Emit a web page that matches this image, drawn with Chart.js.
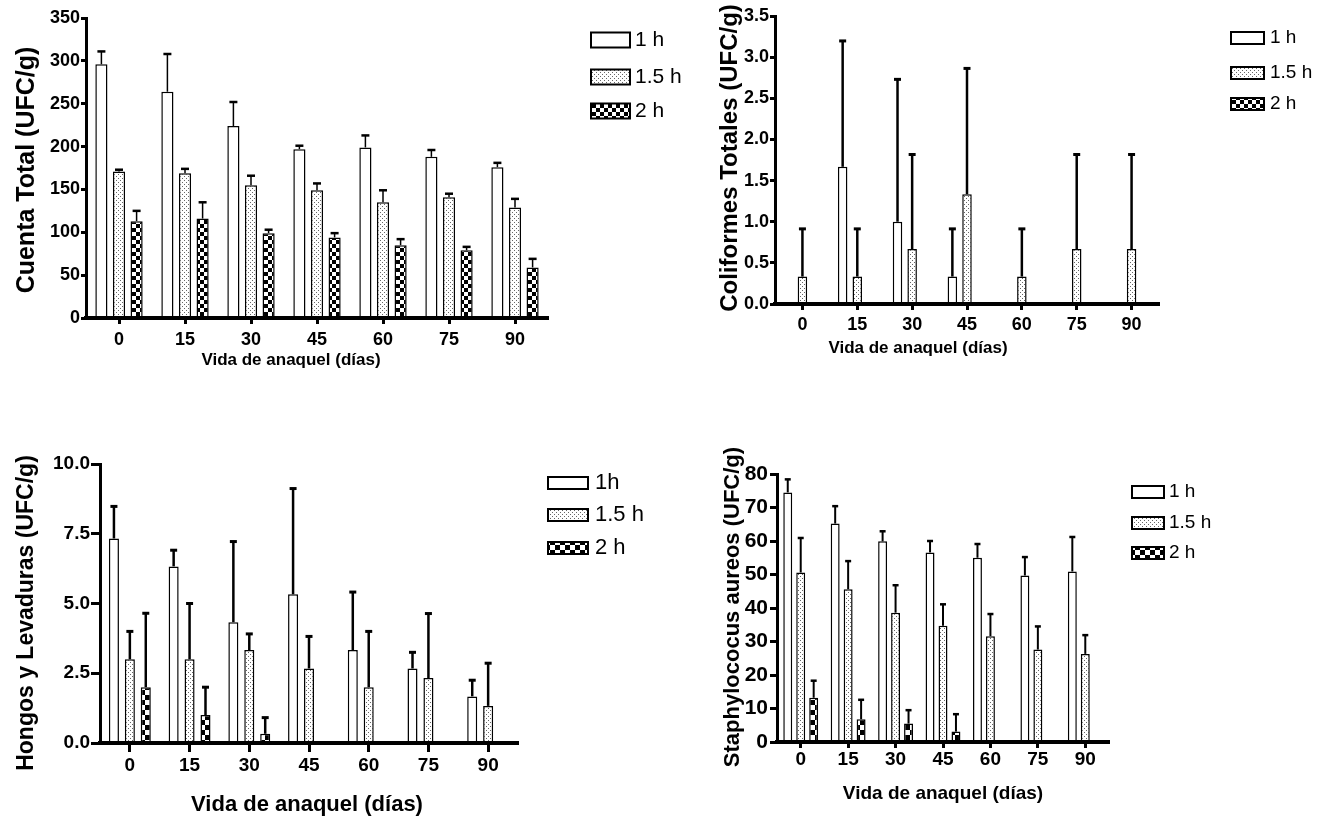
<!DOCTYPE html>
<html>
<head>
<meta charset="utf-8">
<script src="https://cdn.jsdelivr.net/npm/chart.js@4.4.1/dist/chart.umd.min.js"></script>
<style>
  body { margin: 0; background: #fff; width: 1328px; height: 816px; overflow: hidden; position: relative; }
  canvas { position: absolute; }
</style>
</head>
<body>
<canvas id="cuenta" width="700" height="380" style="left:0;top:0"></canvas>
<canvas id="coliformes" width="628" height="380" style="left:700px;top:0"></canvas>
<canvas id="hongos" width="700" height="416" style="left:0;top:400px"></canvas>
<canvas id="staph" width="628" height="416" style="left:700px;top:400px"></canvas>
<script>
// shelf life days (x categories)
const dias = ['0', '15', '30', '45', '60', '75', '90'];

// Cuenta Total (UFC/g): means and upper error (SD)
const ct1h = [296, 264, 224, 197, 199, 188, 176];
const ct1hSd = [15, 44, 28, 4, 14, 8, 5];
const ct15h = [171, 169, 155, 149, 135, 141, 129];
const ct15hSd = [2, 5, 11, 8, 14, 4, 10];
const ct2h = [113, 116, 99, 94, 85, 79, 59];
const ct2hSd = [12, 19, 4, 5, 7, 4, 10];
const ctTicks = [0, 50, 100, 150, 200, 250, 300, 350];

// Coliformes Totales (UFC/g)
const cf1h = [0, 1.667, 1.0, 0.333, 0, 0, 0];
const cf1hSd = [0, 1.53, 1.73, 0.58, 0, 0, 0];
const cf15h = [0.333, 0.333, 0.667, 1.333, 0.333, 0.667, 0.667];
const cf15hSd = [0.58, 0.58, 1.15, 1.53, 0.58, 1.15, 1.15];
const cf2h = [0, 0, 0, 0, 0, 0, 0];
const cf2hSd = [0, 0, 0, 0, 0, 0, 0];
const cfTicks = [0, 0.5, 1.0, 1.5, 2.0, 2.5, 3.0, 3.5];

// Hongos y Levaduras (UFC/g)
const hl1h = [7.33, 6.33, 4.33, 5.33, 3.33, 2.67, 1.67];
const hl1hSd = [1.15, 0.58, 2.89, 3.79, 2.08, 0.58, 0.58];
const hl15h = [3.0, 3.0, 3.33, 2.67, 2.0, 2.33, 1.33];
const hl15hSd = [1.0, 2.0, 0.58, 1.15, 2.0, 2.31, 1.53];
const hl2h = [2.0, 1.0, 0.33, 0, 0, 0, 0];
const hl2hSd = [2.65, 1.0, 0.58, 0, 0, 0, 0];
const hlTicks = [0, 2.5, 5.0, 7.5, 10.0];

// Staphylococus aureos (UFC/g)
const sa1h = [74.5, 65.2, 59.9, 56.6, 55.0, 49.7, 50.9];
const sa1hSd = [3.9, 5.2, 3.0, 3.4, 4.1, 5.5, 10.3];
const sa15h = [50.6, 45.6, 38.6, 34.7, 31.6, 27.6, 26.3];
const sa15hSd = [10.3, 8.4, 8.2, 6.4, 6.6, 6.9, 5.6];
const sa2h = [13.2, 6.8, 5.5, 3.1, 0, 0, 0];
const sa2hSd = [5.1, 5.8, 4.0, 5.2, 0, 0, 0];
const saTicks = [0, 10, 20, 30, 40, 50, 60, 70, 80];

const FONT = '"Liberation Sans", Arial, sans-serif';

function dotted(ctx) {
	const c = document.createElement('canvas');
	c.width = 4; c.height = 4;
	const g = c.getContext('2d');
	g.fillStyle = '#fff';
	g.fillRect(0, 0, 4, 4);
	g.fillStyle = '#666';
	g.fillRect(0, 0, 1, 1);
	g.fillRect(2, 2, 1, 1);
	return ctx.createPattern(c, 'repeat');
}

function checks(ctx, s) {
	const c = document.createElement('canvas');
	c.width = 2 * s; c.height = 2 * s;
	const g = c.getContext('2d');
	g.fillStyle = '#fff';
	g.fillRect(0, 0, 2 * s, 2 * s);
	g.fillStyle = '#000';
	g.fillRect(0, 0, s, s);
	g.fillRect(s, s, s, s);
	return ctx.createPattern(c, 'repeat');
}

// upper error bars, drawn from each bar's top
function errorBars(o) {
	return {
		id: 'errorBars',
		afterDatasetsDraw(chart) {
			const { ctx } = chart;
			const y = chart.scales.y;
			ctx.save();
			ctx.strokeStyle = '#000';
			chart.data.datasets.forEach((ds, i) => {
				chart.getDatasetMeta(i).data.forEach((bar, j) => {
					const sd = ds.errors[j];
					if (!sd) return;
					const top = y.getPixelForValue(ds.data[j] + sd);
					ctx.lineWidth = o.line;
					ctx.beginPath();
					ctx.moveTo(bar.x, bar.y);
					ctx.lineTo(bar.x, top);
					ctx.stroke();
					ctx.lineWidth = o.cap;
					ctx.beginPath();
					ctx.moveTo(bar.x - o.capW / 2, top);
					ctx.lineTo(bar.x + o.capW / 2, top);
					ctx.stroke();
				});
			});
			ctx.restore();
		}
	};
}

function boxLegend(o) {
	return {
		id: 'boxLegend',
		afterDraw(chart) {
			const { ctx } = chart;
			ctx.save();
			ctx.font = o.size + 'px ' + FONT;
			ctx.textBaseline = 'middle';
			chart.data.datasets.forEach((ds, i) => {
				const cy = o.rows[i];
				ctx.fillStyle = ds.backgroundColor;
				ctx.fillRect(o.x, cy - o.h / 2, o.w, o.h);
				ctx.lineWidth = 2;
				ctx.strokeStyle = '#000';
				ctx.strokeRect(o.x, cy - o.h / 2, o.w, o.h);
				ctx.fillStyle = '#000';
				ctx.fillText(ds.label, o.tx, cy);
			});
			ctx.restore();
		}
	};
}

function axisText(items) {
	return {
		id: 'axisText',
		afterDraw(chart) {
			const { ctx } = chart;
			items.forEach(t => {
				ctx.save();
				ctx.translate(t.x, t.y);
				ctx.rotate(t.rot || 0);
				ctx.font = 'bold ' + t.size + 'px ' + FONT;
				ctx.fillStyle = '#000';
				ctx.textAlign = 'center';
				ctx.textBaseline = 'middle';
				ctx.fillText(t.text, 0, 0);
				ctx.restore();
			});
		}
	};
}

function panel(id, cfg) {
	const ctx = document.getElementById(id).getContext('2d');
	const fills = ['#fff', dotted(ctx), checks(ctx, cfg.check)];
	const datasets = cfg.series.map((s, i) => ({
		label: cfg.names[i],
		data: s[0],
		errors: s[1],
		backgroundColor: fills[i],
		borderColor: '#000',
		borderWidth: 1.5,
		borderSkipped: 'start',
		categoryPercentage: cfg.cat,
		barPercentage: cfg.bar,
	}));

	return new Chart(ctx, {
		type: 'bar',
		data: { labels: dias, datasets: datasets },
		options: {
			responsive: false,
			animation: false,
			events: [],
			layout: { padding: cfg.pad },
			plugins: { legend: { display: false }, tooltip: { enabled: false } },
			scales: {
				x: {
					grid: { display: true, drawOnChartArea: false, offset: false, tickLength: cfg.xtl, tickWidth: 3, tickColor: '#000' },
					border: { display: true, color: '#000', width: 4, z: 1 },
					ticks: { color: '#000', font: { family: FONT, weight: 'bold', size: cfg.xfs }, padding: cfg.xtp, maxRotation: 0, autoSkip: false },
					afterFit: s => { s.height = cfg.xh; },
				},
				y: {
					min: 0,
					max: cfg.yticks[cfg.yticks.length - 1],
					afterBuildTicks: s => { s.ticks = cfg.yticks.map(v => ({ value: v })); },
					grid: { display: true, drawOnChartArea: false, tickLength: cfg.ytl, tickWidth: 3, tickColor: '#000' },
					border: { display: true, color: '#000', width: 3, z: 1 },
					ticks: { color: '#000', font: { family: FONT, weight: 'bold', size: cfg.yfs }, padding: cfg.ytp, callback: cfg.fmt },
					afterFit: s => { s.width = cfg.yw; },
				},
			},
		},
		plugins: [errorBars(cfg.err), boxLegend(cfg.legend), axisText(cfg.titles)],
	});
}

const rad = -Math.PI / 2;
const whole = v => String(v);
const oneDec = v => Number(v).toFixed(1);

panel('cuenta', {
	series: [[ct1h, ct1hSd], [ct15h, ct15hSd], [ct2h, ct2hSd]],
	names: ['1 h', '1.5 h', '2 h'],
	yticks: ctTicks, fmt: whole,
	pad: { left: 0, top: 18, right: 152, bottom: 0 }, yw: 86, xh: 62,
	xtl: 6, xtp: 5, xfs: 18, ytl: 5, ytp: 1, yfs: 18,
	cat: 0.8, bar: 0.69, check: 4,
	err: { line: 1.5, cap: 2.5, capW: 8 },
	legend: { x: 591, w: 39, h: 15, rows: [40, 77, 111], tx: 635, size: 21 },
	titles: [
		{ text: 'Cuenta Total (UFC/g)', x: 27, y: 170, rot: rad, size: 25 },
		{ text: 'Vida de anaquel (días)', x: 291, y: 360, size: 17 },
	],
});

panel('coliformes', {
	series: [[cf1h, cf1hSd], [cf15h, cf15hSd], [cf2h, cf2hSd]],
	names: ['1 h', '1.5 h', '2 h'],
	yticks: cfTicks, fmt: oneDec,
	pad: { left: 0, top: 16, right: 169, bottom: 0 }, yw: 75, xh: 76,
	xtl: 6, xtp: 4, xfs: 18, ytl: 5, ytp: 1, yfs: 18,
	cat: 0.8, bar: 0.65, check: 4,
	err: { line: 2.5, cap: 3, capW: 7 },
	legend: { x: 531, w: 33, h: 12, rows: [38, 73, 104], tx: 570, size: 19 },
	titles: [
		{ text: 'Coliformes Totales (UFC/g)', x: 30, y: 158, rot: rad, size: 24 },
		{ text: 'Vida de anaquel (días)', x: 218, y: 348, size: 17 },
	],
});

panel('hongos', {
	series: [[hl1h, hl1hSd], [hl15h, hl15hSd], [hl2h, hl2hSd]],
	names: ['1h', '1.5 h', '2 h'],
	yticks: hlTicks, fmt: oneDec,
	pad: { left: 0, top: 64, right: 182, bottom: 0 }, yw: 100, xh: 73,
	xtl: 9, xtp: 2, xfs: 19, ytl: 9, ytp: 1, yfs: 19,
	cat: 0.8, bar: 0.63, check: 5,
	err: { line: 2.5, cap: 3, capW: 7 },
	legend: { x: 548, w: 40, h: 12, rows: [83, 115, 148], tx: 595, size: 22 },
	titles: [
		{ text: 'Hongos y Levaduras (UFC/g)', x: 27, y: 213, rot: rad, size: 23 },
		{ text: 'Vida de anaquel (días)', x: 307, y: 405, size: 22 },
	],
});

panel('staph', {
	series: [[sa1h, sa1hSd], [sa15h, sa15hSd], [sa2h, sa2hSd]],
	names: ['1 h', '1.5 h', '2 h'],
	yticks: saTicks, fmt: whole,
	pad: { left: 0, top: 74, right: 219, bottom: 0 }, yw: 77, xh: 74,
	xtl: 6, xtp: 0, xfs: 19, ytl: 7, ytp: 2, yfs: 21,
	cat: 0.82, bar: 0.69, check: 5,
	err: { line: 2, cap: 2.5, capW: 6 },
	legend: { x: 432, w: 32, h: 12, rows: [92, 123, 153], tx: 469, size: 19 },
	titles: [
		{ text: 'Staphylococus aureos (UFC/g)', x: 33, y: 207, rot: rad, size: 22 },
		{ text: 'Vida de anaquel (días)', x: 243, y: 394, size: 19 },
	],
});
</script>
</body>
</html>
